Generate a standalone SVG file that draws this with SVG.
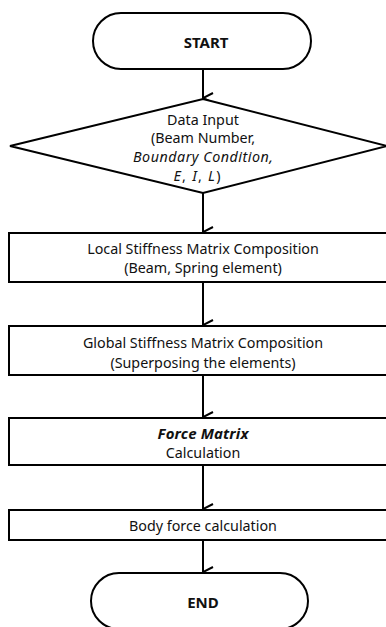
<svg xmlns="http://www.w3.org/2000/svg" width="386" height="627" viewBox="0 0 386 627">
<defs>
<style>
.s{fill:#fff;stroke:#000;stroke-width:2}
.t{font-family:"Noto Sans","Open Sans",sans-serif;font-size:14.3px;fill:#111;text-anchor:middle}
.b{font-weight:bold;font-size:15px}
.i{font-style:italic}
.c{stroke:#000;stroke-width:2;fill:none}
</style>
<marker id="ah" markerWidth="12" markerHeight="12" refX="6" refY="11" orient="auto" markerUnits="userSpaceOnUse" viewBox="0 0 12 12">
<path d="M1,1 L6,11 L11,1" fill="none" stroke="#000" stroke-width="2"/>
</marker>
</defs>
<rect width="386" height="627" fill="#fff"/>
<g id="connectors">
<line class="c" x1="203" y1="69" x2="203" y2="98" marker-end="url(#ah)"/>
<line class="c" x1="203" y1="193" x2="203" y2="232" marker-end="url(#ah)"/>
<line class="c" x1="203" y1="282" x2="203" y2="325" marker-end="url(#ah)"/>
<line class="c" x1="203" y1="375" x2="203" y2="417" marker-end="url(#ah)"/>
<line class="c" x1="203" y1="465" x2="203" y2="509" marker-end="url(#ah)"/>
<line class="c" x1="203" y1="540" x2="203" y2="572" marker-end="url(#ah)"/>
</g>
<g id="start">
<rect class="s" x="93" y="13" width="218" height="56" rx="28" ry="28"/>
<text class="t b" x="206" y="48">START</text>
</g>
<g id="input">
<polygon class="s" points="203,99 387,146 203,193 10,146"/>
<text class="t" x="203" y="125">Data Input</text>
<text class="t" x="203" y="143">(Beam Number,</text>
<text class="t i" x="203" y="162" textLength="140" lengthAdjust="spacing">Boundary Condition,</text>
<text class="t" x="197" y="181" textLength="47" lengthAdjust="spacing"><tspan class="i">E</tspan>, <tspan class="i">I</tspan>, <tspan class="i">L</tspan>)</text>
</g>
<g id="local">
<rect class="s" x="9" y="233" width="390" height="49"/>
<text class="t" x="203" y="254">Local Stiffness Matrix Composition</text>
<text class="t" x="203" y="273">(Beam, Spring element)</text>
</g>
<g id="global">
<rect class="s" x="9" y="326" width="390" height="49"/>
<text class="t" x="203" y="348">Global Stiffness Matrix Composition</text>
<text class="t" x="203" y="368">(Superposing the elements)</text>
</g>
<g id="force">
<rect class="s" x="9" y="418" width="390" height="47"/>
<text class="t b i" x="203" y="439" textLength="91" lengthAdjust="spacing">Force Matrix</text>
<text class="t" x="203" y="458">Calculation</text>
</g>
<g id="body">
<rect class="s" x="9" y="510" width="390" height="30"/>
<text class="t" x="203" y="531">Body force calculation</text>
</g>
<g id="end">
<rect class="s" x="91" y="573" width="217" height="56" rx="28" ry="28"/>
<text class="t b" x="203" y="608">END</text>
</g>
</svg>
